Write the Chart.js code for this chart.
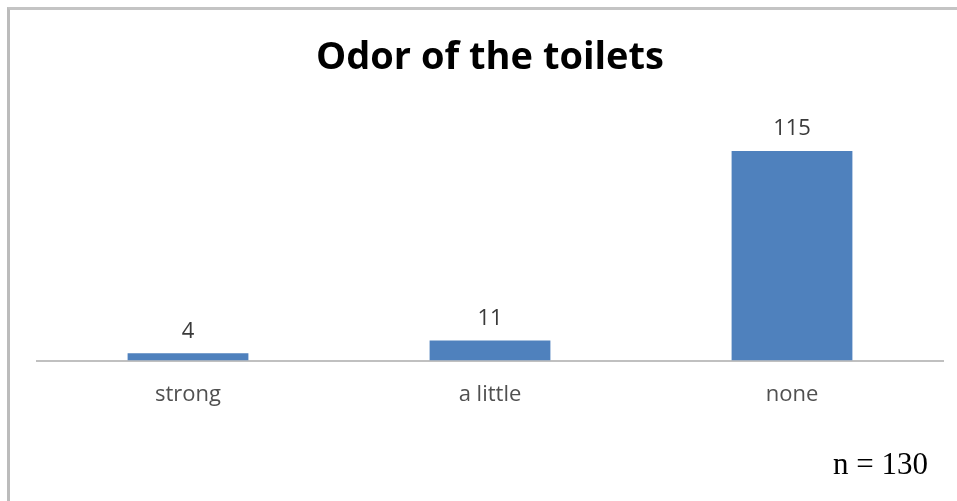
<!DOCTYPE html>
<html>
<head>
<meta charset="utf-8">
<script src="https://cdn.jsdelivr.net/npm/chart.js@4"></script>
<style>
  html, body { margin: 0; padding: 0; background: #fff; }
  #frame {
    position: absolute; left: 7px; top: 7px; right: 0; bottom: 0;
    border-left: 3px solid #bcbcbc; border-top: 3px solid #c4c4c4;
  }
  #wrap { position: absolute; left: 0; top: 0; width: 957px; height: 501px; }
</style>
</head>
<body>
<div id="frame"></div>
<div id="wrap"><canvas id="odorChart" width="957" height="501"></canvas></div>
<script>
const categories = ['strong', 'a little', 'none'];
const counts = [4, 11, 115];
const totalN = 130;
const yMax = 130;

// value labels above each bar + the "n = 130" note
const barLabels = {
    id: 'barLabels',
    afterDatasetsDraw(chart) {
        const ctx = chart.ctx;
        const meta = chart.getDatasetMeta(0);
        ctx.save();
        ctx.font = '22px "Open Sans"';
        ctx.fillStyle = '#3a3a3a';
        ctx.textAlign = 'center';
        ctx.textBaseline = 'middle';
        meta.data.forEach(function(bar, i) {
            ctx.fillText(String(counts[i]), bar.x, bar.y - 22);
        });
        ctx.font = '31px "Liberation Serif"';
        ctx.fillStyle = '#000';
        ctx.textAlign = 'right';
        ctx.fillText('n = ' + totalN, chart.chartArea.right - 15, 466);
        ctx.restore();
    }
};

const ctx = document.getElementById('odorChart').getContext('2d');

const odorChart = new Chart(ctx, {
    type: 'bar',
    data: {
        labels: categories,
        datasets: [{
            data: counts,
            backgroundColor: '#4F81BD',
            borderWidth: 0,
            categoryPercentage: 1,
            barPercentage: 0.4
        }]
    },
    options: {
        responsive: false,
        animation: false,
        layout: {
            padding: { left: 37, right: 14, top: 0, bottom: 72 }
        },
        plugins: {
            legend: { display: false },
            tooltip: { enabled: false },
            title: {
                display: true,
                text: 'Odor of the toilets',
                color: '#000',
                font: { family: 'Open Sans', size: 38, weight: 'bold', lineHeight: 1.2 },
                padding: { top: 35, bottom: 43 }
            }
        },
        scales: {
            x: {
                grid: { display: false, drawTicks: false },
                border: { display: true, color: '#c0c0c0', width: 2 },
                ticks: {
                    color: '#505050',
                    font: { family: 'Open Sans', size: 22 },
                    padding: 21
                }
            },
            y: {
                display: false,
                min: 0,
                max: yMax
            }
        }
    },
    plugins: [barLabels]
});
</script>
</body>
</html>
